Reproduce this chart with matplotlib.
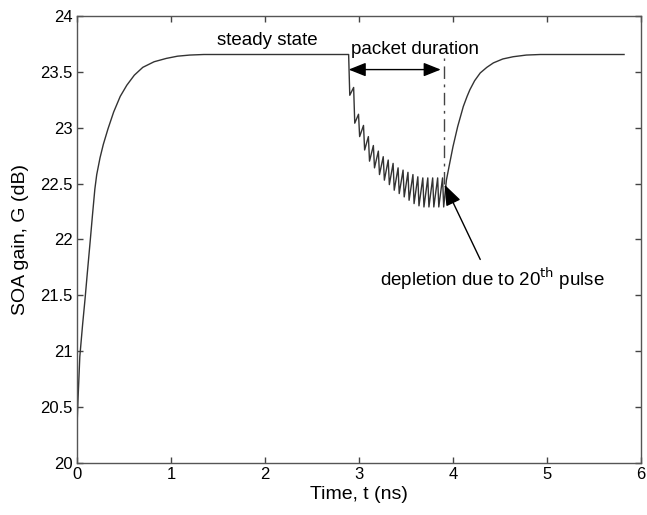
import numpy as np
import matplotlib.pyplot as plt

plt.rcParams['font.family'] = ['Liberation Sans', 'DejaVu Sans']
plt.rcParams['font.size'] = 12

# gain build-up after switch-on
rise_t = [0.0, 0.01, 0.03, 0.06, 0.085, 0.11, 0.14, 0.165, 0.19, 0.21, 0.245,
          0.28, 0.33, 0.39, 0.46, 0.53, 0.61, 0.70, 0.82, 0.95, 1.07, 1.20, 1.35]
rise_g = [20.32, 20.55, 20.95, 21.24, 21.46, 21.70, 21.98, 22.22, 22.45, 22.58, 22.73,
          22.85, 22.99, 23.14, 23.28, 23.38, 23.47, 23.54, 23.59, 23.62, 23.64, 23.65, 23.655]

g_steady = 23.655

# 20 pulses in the packet: gain just before / just after each pulse
pulse_t = [2.890, 2.943, 2.995, 3.048, 3.100, 3.153, 3.206, 3.258, 3.311, 3.363,
           3.416, 3.469, 3.521, 3.574, 3.626, 3.679, 3.732, 3.784, 3.837, 3.889]
peak_g = [23.65, 23.36, 23.12, 23.02, 22.92, 22.84, 22.79, 22.74, 22.71, 22.68,
          22.64, 22.62, 22.60, 22.58, 22.56, 22.55, 22.55, 22.55, 22.55, 22.55]
trough_g = [23.29, 23.04, 22.92, 22.80, 22.70, 22.64, 22.58, 22.53, 22.49, 22.44,
            22.41, 22.38, 22.35, 22.32, 22.30, 22.29, 22.29, 22.29, 22.29, 22.29]
fall = 0.012

# recovery after the packet
rec_t = [3.93, 3.96, 4.00, 4.05, 4.11, 4.15, 4.18, 4.23, 4.29, 4.36, 4.43,
         4.53, 4.64, 4.78, 4.93, 5.82]
rec_g = [22.53, 22.66, 22.83, 23.01, 23.19, 23.28, 23.34, 23.42, 23.49, 23.54, 23.58,
         23.615, 23.635, 23.65, 23.655, 23.655]

# build the whole trace
t = list(rise_t)
g = list(rise_g)
t.append(pulse_t[0])
g.append(g_steady)
for k in range(len(pulse_t)):
    t += [pulse_t[k], pulse_t[k] + fall]
    g += [peak_g[k], trough_g[k]]
t += rec_t
g += rec_g

fig = plt.figure(figsize=(6.47, 5.15), dpi=100)
ax = fig.add_axes([0.119, 0.1015, 0.8717, 0.8675])

ax.plot(t, g, color='#333333', lw=1.0)

# packet end marker
ax.plot([3.90, 3.90], [22.50, 23.62], color='#444444', lw=1.0,
        dashes=(9, 4, 2, 4))

ax.annotate('', xy=(2.89, 23.52), xytext=(3.87, 23.52),
            arrowprops=dict(arrowstyle='<|-|>,head_length=0.7,head_width=0.28',
                            color='black', lw=1.0, mutation_scale=15,
                            shrinkA=0, shrinkB=0))
ax.annotate('', xy=(3.91, 22.49), xytext=(4.29, 21.82),
            arrowprops=dict(arrowstyle='-|>,head_length=0.85,head_width=0.32',
                            color='black', lw=1.0, mutation_scale=15,
                            shrinkA=0, shrinkB=0))

ax.text(2.02, 23.78, 'steady state', ha='center', va='center', fontsize=13.5)
ax.text(2.92, 23.70, 'packet duration', ha='left', va='center', fontsize=13.5)
ax.text(3.22, 21.65, 'depletion due to 20$^{\\mathrm{th}}$ pulse', ha='left',
        va='center', fontsize=13.5)

ax.set_xlim(0, 6)
ax.set_ylim(20, 24)
ax.set_xticks(np.arange(0, 7, 1))
ax.set_yticks(np.arange(20, 24.01, 0.5))
ax.set_yticklabels(['20', '20.5', '21', '21.5', '22', '22.5', '23', '23.5', '24'])
ax.tick_params(direction='in', top=True, right=True, length=4, width=1,
               color='#444444', labelsize=12, pad=3)
for s in ax.spines.values():
    s.set_color('#555555')
    s.set_linewidth(1.0)

ax.set_xlabel('Time, t (ns)', fontsize=14, labelpad=3)
ax.set_ylabel('SOA gain, G (dB)', fontsize=14, labelpad=8)

fig.savefig('out.png', dpi=100)
